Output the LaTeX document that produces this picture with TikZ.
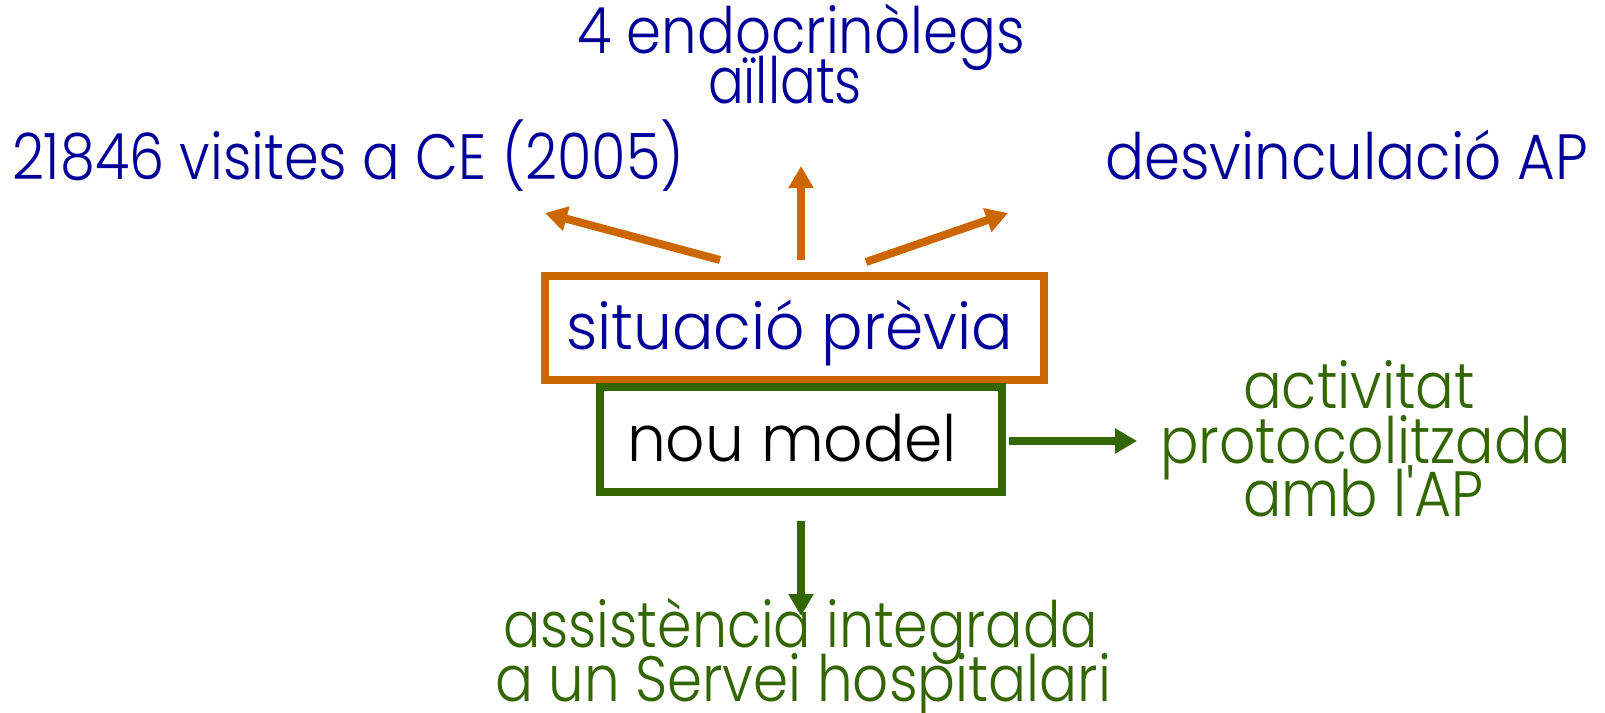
\documentclass[tikz,border=0pt]{standalone}
\usepackage{fontspec}
\setmainfont{Poppins}[UprightFont=* Light]
\usepackage{graphicx}
\usetikzlibrary{arrows.meta}
\definecolor{tblue}{HTML}{000099}
\definecolor{torange}{HTML}{CC6600}
\definecolor{tgreen}{HTML}{336600}
\newcommand{\fitw}[2]{\resizebox{#1pt}{\height}{#2}}
\begin{document}
\begin{tikzpicture}[x=1pt,y=-1pt,
  lbl/.style={anchor=base west, inner sep=0pt, outer sep=0pt, font=\fontsize{64}{64}\selectfont},
  bluetxt/.style={lbl, text=tblue},
  greentxt/.style={lbl, text=tgreen},
  boxnode/.style={draw, line width=8pt, inner sep=0pt, fill=none},
  arr/.style={line width=8pt, -{Triangle[length=22pt,width=24pt]}},
]
\useasboundingbox (0,0) rectangle (1605,712);

% boxes
\node[boxnode, draw=torange, minimum width=499pt, minimum height=103.5pt] (prev) at (794.5,327.75) {};
\node[boxnode, draw=tgreen, minimum width=402pt, minimum height=105pt] (nou) at (801,439.5) {};
\node[bluetxt] (prevtxt) at (566,349) {\fitw{447}{situació prèvia}};
\node[lbl, text=black] (noutxt) at (627,461) {\fitw{330}{nou model}};

% top labels
\node[bluetxt] (endo1) at (577,53) {\fitw{448}{4 endocrinòlegs}};
\node[bluetxt] (endo2) at (708,103) {\fitw{154}{aïllats}};
\node[bluetxt] (visites) at (12,179) {\fitw{672}{21846 visites a CE (2005)}};
\node[bluetxt] (desv) at (1105,179) {\fitw{483}{desvinculació AP}};

% right labels
\node[greentxt] (act1) at (1243,408) {\fitw{232}{activitat}};
\node[greentxt] (act2) at (1160,463) {\fitw{411}{protocolitzada}};
\node[greentxt] (act3) at (1243,516) {\fitw{241}{amb l\textquotesingle AP}};

% bottom labels
\node[greentxt] (ass1) at (503,647) {\fitw{595}{assistència integrada}};
\node[greentxt] (ass2) at (495,701) {\fitw{616}{a un Servei hospitalari}};

% arrow end points
\coordinate (aL0) at (720,260);
\coordinate (aL1) at (545,213);
\coordinate (aU0) at (801,260);
\coordinate (aU1) at (801,166);
\coordinate (aR0) at (866,262);
\coordinate (aR1) at (1008,213);
\coordinate (gR0) at (1009,441);
\coordinate (gR1) at (1137,441);
\coordinate (gD0) at (801,521);
\coordinate (gD1) at (801,616);

\draw[arr, torange] (aL0) -- (aL1);
\draw[arr, torange] (aU0) -- (aU1);
\draw[arr, torange] (aR0) -- (aR1);
\draw[arr, tgreen] (gR0) -- (gR1);
\draw[arr, tgreen] (gD0) -- (gD1);
\end{tikzpicture}
\end{document}
